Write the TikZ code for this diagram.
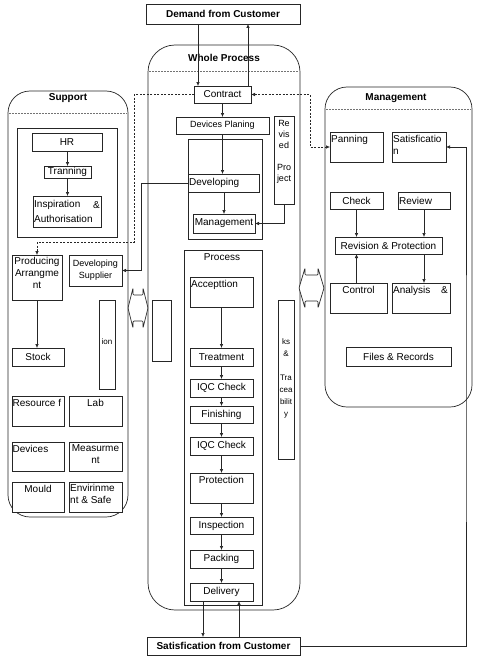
\documentclass[tikz,border=0pt]{standalone}
\usepackage{fontspec}
\setmainfont{Liberation Sans}
\usetikzlibrary{calc,arrows.meta}
\newcommand\mybox[6][]{\node[bx,#1,minimum width={#4-#2},minimum height={#5-#3},anchor=north west] (#6) at (#2,#3) {};}
\begin{document}
\begin{tikzpicture}[x=1pt,y=-1pt,
  bx/.style={draw=black!85, line width=0.7pt, inner sep=0pt, outer sep=0pt, rectangle, fill=white},
  grp/.style={rounded corners=22pt, fill=none},
  arr/.style={draw=black!85, line width=0.6pt, -{Latex[length=4pt,width=3.5pt]}},
  dsh/.style={dash pattern=on 2pt off 1.5pt},
  sep/.style={draw=black!55, dash pattern=on 1.5pt off 1.5pt, line width=0.5pt},
  t/.style={inner sep=0pt, font=\fontsize{10}{12}\selectfont},
  ts/.style={inner sep=0pt, font=\fontsize{9}{11}\selectfont},
  ttl/.style={inner sep=0pt, font=\fontsize{10}{12}\selectfont\bfseries},
  nar/.style={inner sep=0pt, font=\fontsize{8}{12}\selectfont, align=center, anchor=north},
  nar9/.style={inner sep=0pt, font=\fontsize{9}{11}\selectfont, align=center, anchor=north},
]
\useasboundingbox[fill=white] (0,0) rectangle (481,661);

% ---------- containers ----------
\mybox[grp,rounded corners=27pt]{148}{45}{300}{610}{wp}
\mybox[grp]{8}{91}{128}{517}{sup}
\mybox[grp]{325}{87}{472}{407}{mgt}
\draw[sep] (149,71) -- (299,71);
\draw[sep] (9,113) -- (127,113);
\draw[sep] (326,109) -- (471,109);
\node[ttl] (wpT) at (224,58) {Whole Process};
\node[ttl] (supT) at (68,98) {Support};
\node[ttl] (mgtT) at (396,98) {Management};

% ---------- customer boxes ----------
\mybox{146}{4}{300}{24}{dem}
\node[ttl] (demT) at (dem) {Demand from Customer};
\mybox{147}{637}{300}{655}{satc}
\node[ttl] (satcT) at (satc) {Satisfication from Customer};

% ---------- whole process ----------
\mybox{194}{86}{251}{103}{contract}
\node[t] (contractT) at (contract) {Contract};
\mybox{176}{117}{269}{134}{plan}
\node[ts] (planT) at (plan) {Devices Planing};
\mybox[fill=none]{188}{139}{262}{239}{devgrp}
\mybox{188}{174}{259}{192}{dev}
\node[t,anchor=west] (devT) at ([xshift=1pt]dev.west) {Developing};
\mybox{193}{214}{255}{233}{mgp}
\node[t] (mgpT) at (mgp) {Management};
\mybox{274}{116}{294}{204}{rev}
\node[nar9] (revT) at ([yshift=-4pt]rev.north) {Re\\vis\\ed\\[11pt]Pro\\ject};
\mybox{152}{300}{171}{361}{nb2}
\mybox{278}{300}{294}{459}{trace}
\node[nar] (traceT) at (286,338) {ks\\\&\\[12pt]Tra\\cea\\bilit\\y};

\mybox[fill=none]{184}{250}{262}{605}{proc}
\node[t] (procT) at (222,257) {Process};
\mybox{190}{277}{253}{307}{acc}
\node[t,anchor=north west] (accT) at ([shift={(1,3)}]acc.north west) {Accepttion};
\mybox{190}{348}{253}{366}{treat}
\node[t] (treatT) at (treat) {Treatment};
\mybox{190}{379}{253}{397}{iqca}
\node[t] (iqcaT) at (iqca) {IQC Check};
\mybox{190}{406}{253}{423}{fin}
\node[t] (finT) at (fin) {Finishing};
\mybox{190}{437}{253}{455}{iqcb}
\node[t] (iqcbT) at (iqcb) {IQC Check};
\mybox{190}{473}{253}{503}{prot}
\node[t,anchor=north] (protT) at ([yshift=-3pt]prot.north) {Protection};
\mybox{190}{517}{253}{534}{insp}
\node[t] (inspT) at (insp) {Inspection};
\mybox{190}{550}{253}{568}{pack}
\node[t] (packT) at (pack) {Packing};
\mybox{190}{583}{253}{601}{deliv}
\node[t] (delivT) at (deliv) {Delivery};

% ---------- support ----------
\mybox[fill=none]{17}{128}{117}{237}{hrgrp}
\mybox{32}{133}{102}{151}{hr}
\node[t] (hrT) at (hr) {HR};
\mybox{44}{166}{91}{178}{tran}
\node[t] (tranT) at (tran) {Tranning};
\mybox{33}{196}{101}{227}{inspa}
\node[t,anchor=west] (inspaT1) at (34,205) {Inspiration};
\node[t,anchor=east] (inspaT2) at (100,205) {\&};
\node[t,anchor=west] (inspaT3) at (34,219) {Authorisation};
\mybox{12}{255}{62}{300}{prod}
\node[t,align=center,anchor=north] (prodT) at ([yshift=-2pt]prod.north) {Producing\\Arrangme\\nt};
\mybox{69}{255}{122}{286}{dsup}
\node[ts,align=center] (dsupT) at (dsup) {Developing\\[1pt]Supplier};
\mybox{12}{348}{64}{366}{stock}
\node[t] (stockT) at (stock) {Stock};
\mybox{99}{300}{115}{389}{nba}
\node[nar] (nbaT) at (107,338) {ion};
\mybox{12}{396}{64}{426}{res}
\node[t,anchor=north west] (resT) at ([shift={(0.5,3)}]res.north west) {Resource f};
\mybox{69}{396}{122}{426}{lab}
\node[t,anchor=north] (labT) at ([yshift=-3pt]lab.north) {Lab};
\mybox{12}{442}{64}{471}{devs}
\node[t,anchor=north west] (devsT) at ([shift={(0.5,3)}]devs.north west) {Devices};
\mybox{69}{442}{122}{471}{meas}
\node[t,align=center,anchor=north] (measT) at ([yshift=-2pt]meas.north) {Measurme\\nt};
\mybox{12}{482}{64}{512}{mould}
\node[t,anchor=north] (mouldT) at ([yshift=-3pt]mould.north) {Mould};
\mybox{69}{482}{122}{512}{env}
\node[t,align=left,anchor=north west] (envT) at ([shift={(1,2)}]env.north west) {Envirinme\\nt \& Safe};

% ---------- management ----------
\mybox{330}{132}{383}{162}{pan}
\node[t,anchor=north west] (panT) at ([shift={(1,3)}]pan.north west) {Panning};
\mybox{392}{132}{446}{162}{msat}
\node[t,align=left,anchor=north west] (msatT) at ([shift={(1,3)}]msat.north west) {Satisficatio\\n};
\mybox{330}{192}{383}{209}{check}
\node[t] (checkT) at (check) {Check};
\mybox{398}{192}{450}{209}{review}
\node[t,anchor=west] (reviewT) at ([xshift=1pt]review.west) {Review};
\mybox{335}{237}{442}{254}{rp}
\node[t] (rpT) at (rp) {Revision \& Protection};
\mybox{330}{283}{387}{313}{ctrl}
\node[t,anchor=north] (ctrlT) at ([yshift=-3pt]ctrl.north) {Control};
\mybox{392}{283}{450}{313}{anal}
\node[t,anchor=north west] (analT1) at ([shift={(1,3)}]anal.north west) {Analysis};
\node[t,anchor=north east] (analT2) at ([shift={(-2,3)}]anal.north east) {\&};
\mybox{346}{347}{451}{366}{files}
\node[t] (filesT) at (files) {Files \& Records};

% ---------- double block arrows ----------
\draw[draw=black!85, line width=0.7pt, fill=white, rounded corners=1pt]
  (299,288) -- (305,268) -- (305,275) -- (318,275) -- (318,268) -- (324,288)
  -- (318,308) -- (318,301) -- (305,301) -- (305,308) -- cycle;
\draw[draw=black!85, line width=0.7pt, fill=white, rounded corners=1pt]
  (128,308) -- (133,288) -- (133,295) -- (143,295) -- (143,288) -- (148,308)
  -- (143,328) -- (143,321) -- (133,321) -- (133,328) -- cycle;

% ---------- connectors ----------
\coordinate (cA) at (134,242);
\coordinate (cB) at (310,147);
\coordinate (cC) at (141,183);
\coordinate (cD) at (466,400);

\draw[arr] ([xshift=4pt]contract.north west |- dem.south) -- ([xshift=4pt]contract.north west);
\draw[arr] ([xshift=-3pt]contract.north east) -- ([xshift=-3pt]contract.north east |- dem.south);
\draw[arr,dsh] (contract.west) -| (cA) -| (prod.north);
\draw[dsh,draw=black!85,line width=0.6pt,{Latex[length=4pt,width=3.5pt]}-{Latex[length=4pt,width=3.5pt]}] (contract.east) -| (cB) -- (pan.west);
\draw[arr] (contract.south) -- (contract.south |- plan.north);
\draw[arr] (plan.south) -- (plan.south |- dev.north);
\draw[arr] (dev.south -| mgp.north) -- (mgp.north);
\draw[arr] (rev.south) |- (mgp.east);
\draw[arr] (dev.west) -- (cC) |- (dsup.east);

\draw[arr] (hr.south -| tran.north) -- (tran.north);
\draw[arr] (tran.south) -- (tran.south |- inspa.north);
\draw[arr] (prod.south) -- (prod.south |- stock.north);

\draw[arr] (acc.south) -- (treat.north);
\draw[arr] (treat.south) -- (iqca.north);
\draw[arr] (iqca.south) -- (fin.north);
\draw[arr] (fin.south) -- (iqcb.north);
\draw[arr] (iqcb.south) -- (prot.north);
\draw[arr] (prot.south) -- (insp.north);
\draw[arr] (insp.south) -- (pack.north);
\draw[arr] (pack.south) -- (deliv.north);
\draw[arr] ([xshift=13pt]deliv.south west) -- ([xshift=13pt]deliv.south west |- satc.north);
\draw[arr] ([xshift=-14pt]deliv.south east |- satc.north) -- ([xshift=-14pt]deliv.south east);

\draw[arr] (satc.east) -| (cD) |- (msat.east);
\draw[arr] (check.south) -- (check.south |- rp.north);
\draw[arr] (review.south) -- (review.south |- rp.north);
\draw[arr] (ctrl.north -| check.south) -- (check.south |- rp.south);
\draw[arr] (review.south |- rp.south) -- (review.south |- anal.north);
\end{tikzpicture}
\end{document}
